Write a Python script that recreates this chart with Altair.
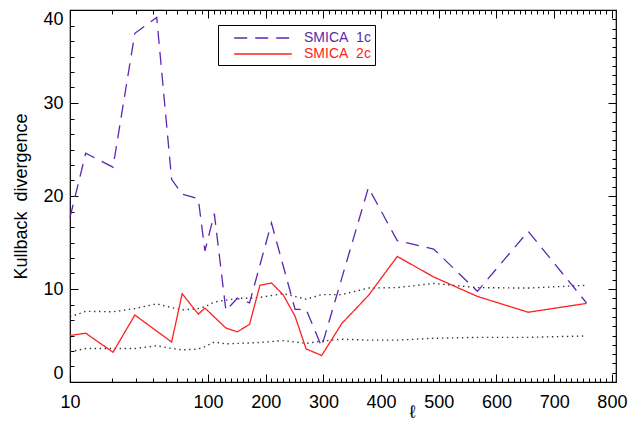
import math
import altair as alt
import pandas as pd

# ---------------- data ----------------
series_names = ["SMICA\u00a0\u00a01c", "SMICA\u00a0\u00a02c"]
series_colors = ["#5c27b0", "#ff2020"]

ell_1c = [10, 13, 20.5, 29.5, 42.5, 54.5, 65, 85, 95, 111, 131, 151, 172, 210,
          251, 270, 297, 378, 428, 491, 567, 655, 756]
kl_1c = [17.7, 24.6, 23.1, 37.5, 39.2, 21.8, 20.2, 19.7, 14.1, 18.1, 7.7, 9.0, 8.5, 17.1,
         7.8, 7.8, 3.8, 20.9, 15.2, 14.3, 9.75, 16.2, 8.5]

ell_2c = [10, 13, 20.5, 29.5, 54.5, 65, 85, 95, 131, 151, 172, 190, 210, 230,
          251, 270, 297, 332, 378, 428, 491, 567, 655, 756]
kl_2c = [5.0, 5.25, 3.2, 7.2, 4.3, 9.5, 7.3, 7.95, 5.8, 5.4, 6.2, 10.4, 10.65, 9.4,
         7.05, 3.56, 2.85, 6.3, 9.3, 13.5, 11.3, 9.2, 7.5, 8.45]

ell_band = [10, 13, 20.5, 29.5, 42.5, 54.5, 65, 85, 95, 111, 131, 151, 172, 190, 210,
            230, 251, 270, 297, 332, 378, 428, 491, 567, 655, 756]
band_hi = [7.0, 7.6, 7.55, 7.9, 8.4, 8.0, 7.75, 7.9, 8.1, 8.6, 8.8, 9.0, 9.0, 9.1, 9.3,
           9.5, 9.2, 8.9, 9.4, 9.4, 10.1, 10.15, 10.6, 10.15, 10.1, 10.4]
band_lo = [3.25, 3.6, 3.6, 3.6, 3.9, 3.6, 3.45, 3.55, 3.8, 4.3, 4.1, 4.15, 4.2, 4.25, 4.35,
           4.45, 4.3, 4.15, 4.4, 4.6, 4.5, 4.5, 4.7, 4.8, 4.8, 4.95]

x_major = [10, 100, 200, 300, 400, 500, 600, 700, 800]
x_minor = [v for v in range(20, 100, 10)] + [v for v in range(110, 810, 10) if v % 100 != 0]
y_major = [0, 10, 20, 30, 40]
y_minor_left = [round(i * 10 / 6, 4) for i in range(1, 24) if i % 6 != 0]
y_minor_right = [v for v in range(1, 40) if v % 10 != 0]

# ---------------- hybrid axis: log below 100, linear above ----------------
K = 0.4181  # decades-equivalent per 100 in ell on the linear part


def u_of(l):
    return math.log10(l / 10) if l <= 100 else 1 + (l - 100) * K / 100


U_EXPR = f"datum.ell <= 100 ? log(datum.ell/10)/LN10 : 1 + (datum.ell-100)*{K}/100"
W, H = 546, 372
UMAX = W / 138.0

xm = [u_of(v) for v in x_major]
xn = [u_of(v) for v in x_minor]

rows = []
for e, v in zip(ell_1c, kl_1c):
    rows.append({"ell": e, "kl": v, "series": series_names[0]})
for e, v in zip(ell_2c, kl_2c):
    rows.append({"ell": e, "kl": v, "series": series_names[1]})
df_lines = pd.DataFrame(rows)

brows = []
for e, v in zip(ell_band, band_hi):
    brows.append({"ell": e, "kl": v, "band": "hi"})
for e, v in zip(ell_band, band_lo):
    brows.append({"ell": e, "kl": v, "band": "lo"})
df_band = pd.DataFrame(brows)

xs = alt.Scale(domain=[0, UMAX], nice=False, zero=False)
ys = alt.Scale(domain=[0, 40], nice=False, zero=False)
FONT = "Liberation Sans"


def tick_axis(orient, offset, values, size):
    return alt.Axis(orient=orient, offset=offset, values=values, tickSize=size,
                    labels=False, domain=False, grid=False, title=None,
                    tickColor="black", tickWidth=1)


label_expr = (f"'' + round(datum.value <= 1.0001 ? 10*pow(10, datum.value) : "
              f"100 + (datum.value - 1)*100/{K})")

leg = alt.Legend(
    title=None, orient="none", legendX=148, legendY=15,
    strokeColor="black", fillColor="white", padding=4,
    symbolType="M-3.6,0H3.6", symbolSize=256, symbolStrokeWidth=1.3,
    symbolOffset=32, labelOffset=32, labelFontSize=14, labelFont=FONT,
    labelColor=alt.ExprRef(
        f"indexof(datum.label, '1c') >= 0 ? '{series_colors[0]}' : '{series_colors[1]}'"),
    rowPadding=0, cornerRadius=0,
)

main = alt.Chart(df_lines).transform_calculate(u=U_EXPR).mark_line(strokeWidth=1.3).encode(
    x=alt.X("u:Q", scale=xs, axis=alt.Axis(
        orient="bottom", values=xm, labelExpr=label_expr, ticks=False, tickSize=0,
        domain=False, grid=False, labelFontSize=18, labelPadding=11, labelFlush=False,
        labelOverlap=False, title="ℓ", titleX=342, titleY=39, titleBaseline="bottom",
        titleFontSize=18, titleFontWeight="normal")),
    y=alt.Y("kl:Q", scale=ys, axis=alt.Axis(
        orient="left", values=y_major, ticks=False, tickSize=0, domain=False, grid=False,
        labelFontSize=18, labelPadding=7, labelFlush=True,
        title="Kullback\u00a0\u00a0divergence", titleFontSize=18,
        titleFontWeight="normal", titlePadding=12)),
    color=alt.Color("series:N", scale=alt.Scale(domain=series_names, range=series_colors),
                    legend=leg),
    strokeDash=alt.StrokeDash("series:N",
                              scale=alt.Scale(domain=series_names, range=[[13, 8], [1, 0]]),
                              legend=leg),
)

band = alt.Chart(df_band).transform_calculate(u=U_EXPR).mark_line(
    strokeWidth=1.4, strokeDash=[1.4, 3.6], color="#333333").encode(
    x=alt.X("u:Q", scale=xs, axis=tick_axis("top", -H, xm, 8)),
    y=alt.Y("kl:Q", scale=ys, axis=tick_axis("right", -W, y_major, 8)),
    detail="band:N",
)


def ghost(xax, yax):
    return alt.Chart(df_band).transform_calculate(u=U_EXPR).mark_point(opacity=0).encode(
        x=alt.X("u:Q", scale=xs, axis=xax),
        y=alt.Y("kl:Q", scale=ys, axis=yax),
    )


g1 = ghost(tick_axis("top", -H, xn, 4), tick_axis("right", -W, y_minor_left, 4))
g2 = ghost(tick_axis("bottom", -H, xm, 8), tick_axis("left", -W, y_major, 8))
g3 = ghost(tick_axis("bottom", -H, xn, 4), tick_axis("left", -W, y_minor_right, 4))

chart = alt.layer(band, g1, g2, g3, main).resolve_axis(
    x="independent", y="independent"
).properties(
    width=W, height=H,
    autosize=alt.AutoSizeParams(type="none"),
    padding={"left": 62, "top": 2, "right": 18, "bottom": 40},
    background="white",
).configure_view(
    stroke="black", strokeWidth=1.2
).configure_axis(
    labelFont=FONT, titleFont=FONT, labelColor="black", titleColor="black"
)

chart.save("out.html", embed_options={"renderer": "svg", "actions": False})
